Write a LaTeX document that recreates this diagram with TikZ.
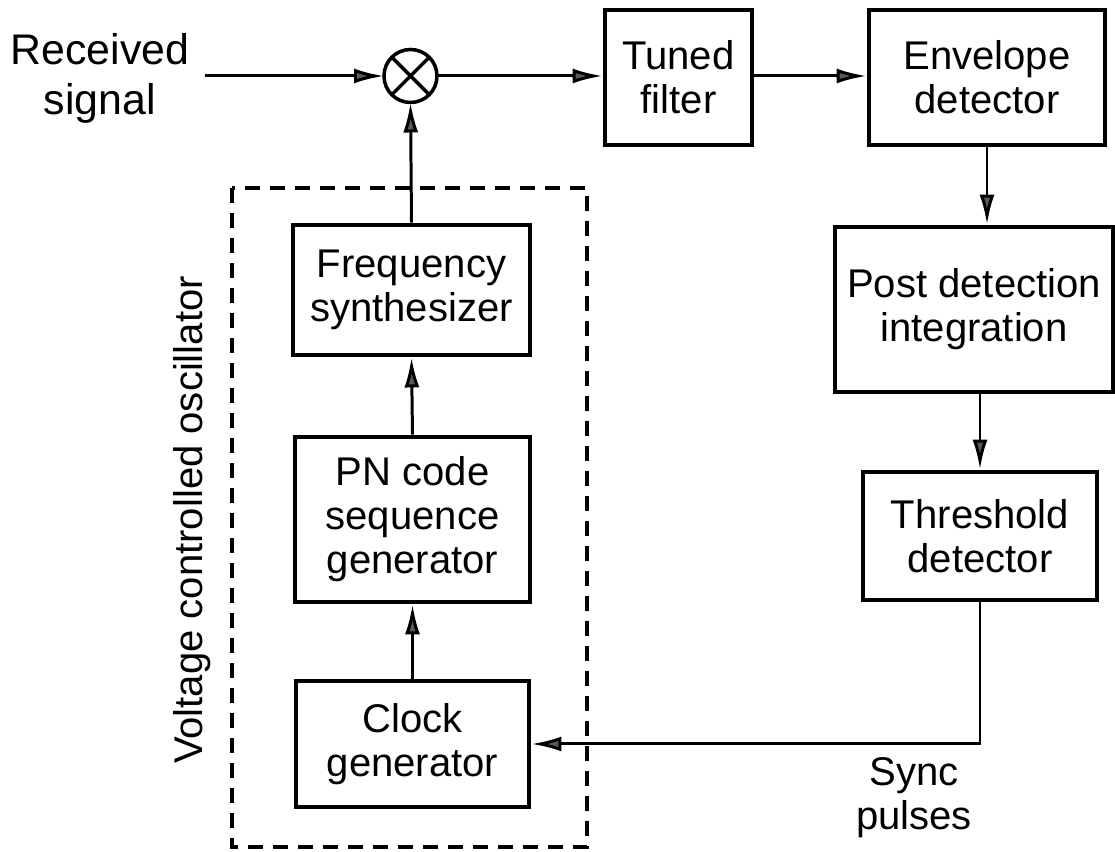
\documentclass[tikz,border=0pt]{standalone}
\usepackage{fontspec}
\setmainfont{Liberation Sans}
\usetikzlibrary{arrows.meta}

\begin{document}
\begin{tikzpicture}[
    font=\fontsize{22.8}{25}\selectfont,
    block/.style={draw, line width=2.8pt, align=center, inner sep=0pt},
    flow/.style={line width=1.7pt, -{Latex[length=6mm, width=3mm, fill=black!65]}}]
    \useasboundingbox (0,0) rectangle (22.3,17.04);
    \coordinate (Input) at (4.1,15.52);% free end of the received signal

    % Top row: mixer, tuned filter, envelope detector
    \node (Signal) [align=center, font=\fontsize{24.4}{28.5}\selectfont]
        at (2.0,15.48) {Received\\signal};
    \node (Mixer) [draw, circle, line width=2pt, minimum size=1.06cm,
        inner sep=0pt, outer sep=0pt] at (8.21,15.52) {};
    \draw [line width=2pt] (Mixer.north west) -- (Mixer.south east)
        (Mixer.north east) -- (Mixer.south west);% the cross
    \node (Tuned) [block, minimum width=2.94cm, minimum height=2.7cm]
        at (13.57,15.49) {Tuned\\filter};
    \node (Envelope) [block, minimum width=4.72cm, minimum height=2.7cm]
        at (19.74,15.49) {Envelope\\detector};

    % Right column
    \node (PostDet) [block, minimum width=5.56cm, minimum height=3.3cm]
        at (19.48,10.85) {Post detection\\integration};
    \node (Threshold) [block, minimum width=4.68cm, minimum height=2.56cm]
        at (19.6,6.32) {Threshold\\detector};
    \node (Sync) [align=center] at (18.28,1.08) {Sync\\pulses};

    % Oscillator blocks inside the dashed frame
    \node (Synth) [block, minimum width=4.74cm, minimum height=2.6cm]
        at (8.23,11.24) {Frequency\\synthesizer};
    \node (PNGen) [block, minimum width=4.7cm, minimum height=3.3cm]
        at (8.25,6.65) {PN code\\sequence\\generator};
    \node (Clock) [block, minimum width=4.66cm, minimum height=2.52cm]
        at (8.25,2.16) {Clock\\generator};
    \draw [line width=1.8pt, dash pattern=on 0.3cm off 0.2cm]
        (4.64,13.28) rectangle (11.74,0.1);
    \node (VCOLabel) [rotate=90] at (3.84,6.64) {Voltage controlled oscillator};

    % Signal flow
    \draw [flow] (Input) -- (Mixer.west);
    \draw [flow] (Mixer.east) -- (Mixer -| Tuned.west);
    \draw [flow] (Tuned.east |- Mixer) -- (Mixer -| Envelope.west);
    \draw [flow] (Envelope.south) -- (Envelope.south |- PostDet.north);
    \draw [flow] (PostDet.south -| Threshold.north) -- (Threshold.north);
    \draw [flow] (Threshold.south) |- (Clock.east);% sync pulses back
    \draw [flow] (Clock.north) -- (PNGen.south);
    \draw [flow] (PNGen.north) -- (Synth.south);
    \draw [flow] (Synth.north) -- (Mixer.south);
\end{tikzpicture}
\end{document}
